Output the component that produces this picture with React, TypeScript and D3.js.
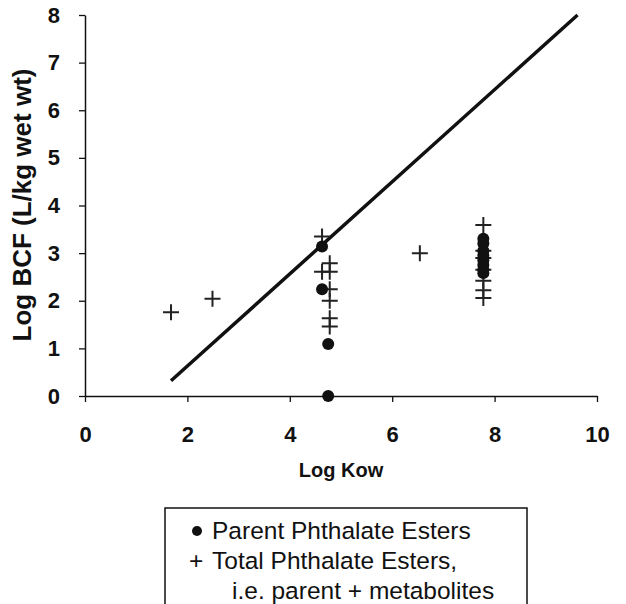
import React, { useEffect, useRef } from "react";
import * as d3 from "d3";

// values (log Kow, log BCF)
const parentKow = [4.63, 4.63, 4.75, 4.75, 7.78, 7.78, 7.78, 7.78, 7.78, 7.78, 7.78, 7.78];
const parentBcf = [3.14, 2.24, 1.09, 0, 3.3, 3.2, 3.05, 2.95, 2.85, 2.75, 2.65, 2.58];

const totalKow = [1.68, 2.49, 4.63, 4.63, 4.78, 4.78, 4.78, 4.78, 4.78, 4.78, 6.54, 7.78, 7.78, 7.78, 7.78, 7.78, 7.78, 7.78];
const totalBcf = [1.76, 2.04, 3.35, 2.61, 2.79, 2.61, 2.24, 2.0, 1.63, 1.46, 3.0, 3.59, 3.05, 2.9, 2.65, 2.42, 2.22, 2.06];

const lineKow = [1.68, 9.62];
const lineBcf = [0.32, 8.0];

const xTicks = [0, 2, 4, 6, 8, 10];
const yTicks = [0, 1, 2, 3, 4, 5, 6, 7, 8];

const App = () => {
  const ref = useRef<SVGSVGElement>(null);

  useEffect(() => {
    const svg = d3.select(ref.current);
    svg.selectAll("*").remove();

    const x = d3.scaleLinear().domain([0, 10]).range([85, 597]);
    const y = d3.scaleLinear().domain([0, 8]).range([396, 15]);
    const font = "'Liberation Sans', Arial, sans-serif";

    // x axis
    const gx = svg.append("g").attr("transform", "translate(0,396)");
    gx.call(d3.axisBottom(x).tickValues(xTicks).tickSize(6).tickSizeOuter(0).tickPadding(24));
    gx.select(".domain").attr("stroke", "#111").attr("stroke-width", 1.5);
    gx.selectAll(".tick line").attr("stroke", "#111").attr("stroke-width", 1.3);
    gx.selectAll("text")
      .attr("font-family", font)
      .attr("font-weight", "bold")
      .attr("font-size", 22)
      .attr("fill", "#111");

    // y axis
    const gy = svg.append("g").attr("transform", "translate(85,0)");
    gy.call(d3.axisLeft(y).tickValues(yTicks).tickSize(6).tickSizeOuter(0).tickPadding(19));
    gy.select(".domain").attr("stroke", "#111").attr("stroke-width", 1.5);
    gy.selectAll(".tick line").attr("stroke", "#111").attr("stroke-width", 1.3);
    gy.selectAll("text")
      .attr("font-family", font)
      .attr("font-weight", "bold")
      .attr("font-size", 22)
      .attr("fill", "#111");

    // axis titles
    svg.append("text")
      .attr("x", 341)
      .attr("y", 477)
      .attr("text-anchor", "middle")
      .attr("font-family", font)
      .attr("font-weight", "bold")
      .attr("font-size", 20)
      .attr("fill", "#111")
      .text("Log Kow");

    svg.append("text")
      .attr("transform", "translate(31,205) rotate(-90)")
      .attr("text-anchor", "middle")
      .attr("font-family", font)
      .attr("font-weight", "bold")
      .attr("font-size", 26)
      .attr("fill", "#111")
      .text("Log BCF (L/kg wet wt)");

    // regression line
    const line = d3.line<number>()
      .x((d, i) => x(lineKow[i]))
      .y((d) => y(d));
    svg.append("path")
      .attr("d", line(lineBcf))
      .attr("fill", "none")
      .attr("stroke", "#111")
      .attr("stroke-width", 3.5);

    // total (crosses)
    svg.append("g")
      .selectAll("path")
      .data(totalBcf)
      .enter()
      .append("path")
      .attr("transform", (d, i) => `translate(${x(totalKow[i])},${y(d)})`)
      .attr("d", "M-8,0H8M0,-8V8")
      .attr("stroke", "#222")
      .attr("stroke-width", 2);

    // parent (dots)
    svg.append("g")
      .selectAll("circle")
      .data(parentBcf)
      .enter()
      .append("circle")
      .attr("cx", (d, i) => x(parentKow[i]))
      .attr("cy", (d) => y(d))
      .attr("r", 6)
      .attr("fill", "#111");

    // legend
    const lg = svg.append("g").attr("font-family", font).attr("font-size", 24.5).attr("fill", "#111");
    lg.append("rect")
      .attr("x", 165)
      .attr("y", 508)
      .attr("width", 362)
      .attr("height", 110)
      .attr("fill", "none")
      .attr("stroke", "#111")
      .attr("stroke-width", 1.5);
    lg.append("circle").attr("cx", 197).attr("cy", 531).attr("r", 5).attr("fill", "#111");
    lg.append("text").attr("x", 212).attr("y", 539).text("Parent Phthalate Esters");
    lg.append("text").attr("x", 189).attr("y", 569).text("+");
    lg.append("text").attr("x", 212).attr("y", 569).text("Total Phthalate Esters,");
    lg.append("text").attr("x", 232).attr("y", 599).text("i.e. parent + metabolites");
  }, []);

  return <svg ref={ref} width={626} height={604} style={{ display: "block", position: "absolute", left: 0, top: 0, background: "#fff" }} />;
};

export default App;
